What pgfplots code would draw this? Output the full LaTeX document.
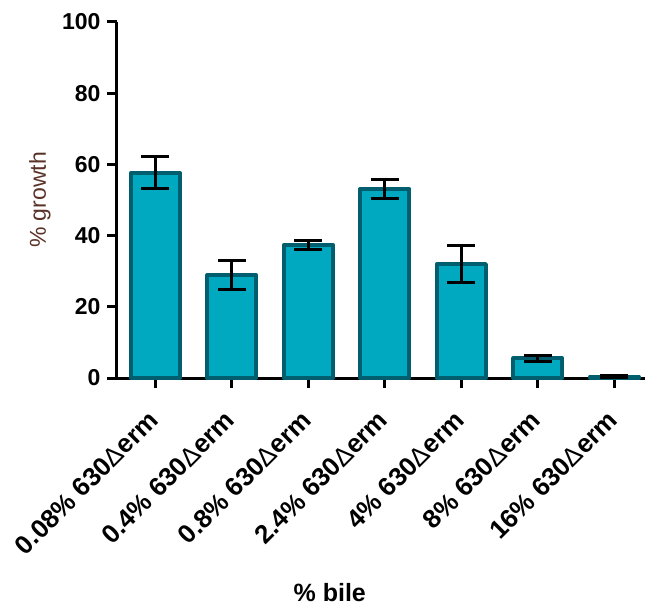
\documentclass[border=0pt]{standalone}
\usepackage{fontspec}
\setmainfont{Liberation Sans}
\usepackage{pgfplots}
\pgfplotsset{compat=1.18}
\definecolor{barfill}{RGB}{0,168,192}
\definecolor{baredge}{RGB}{0,94,110}
\definecolor{ylab}{RGB}{90,50,40}
\begin{document}
\begin{tikzpicture}
\begin{axis}[
  scale only axis,
  width=528pt, height=356pt,
  xmin=-0.5, xmax=6.4,
  ymin=0, ymax=100,
  axis x line=bottom, axis y line=left,
  axis line style={line width=3pt, -},
  ytick={0,20,40,60,80,100},
  xtick={0,1,2,3,4,5,6},
  xticklabels={0.08\% 630{\mdseries Δ}erm, 0.4\% 630{\mdseries Δ}erm, 0.8\% 630{\mdseries Δ}erm, 2.4\% 630{\mdseries Δ}erm, 4\% 630{\mdseries Δ}erm, 8\% 630{\mdseries Δ}erm, 16\% 630{\mdseries Δ}erm},
  tick style={line width=3pt, black},
  major tick length=10pt,
  tick align=outside,
  /pgf/number format/assume math mode=true,
  yticklabel style={font=\fontsize{23}{26}\selectfont\bfseries, xshift=-3pt},
  xticklabel style={font=\fontsize{26}{29}\selectfont\bfseries, rotate=45, anchor=north east, xshift=-17.5pt, yshift=-5.5pt},
  ylabel={\% growth},
  ylabel style={font=\fontsize{23}{26}\selectfont, color=ylab, at={(axis description cs:-0.146,0.5)}, anchor=center},
  xlabel={\% bile},
  xlabel style={font=\fontsize{25}{28}\selectfont\bfseries, at={(axis description cs:0.403,-0.604)}, anchor=center},
  clip=false,
]
\addplot[ybar, bar width=49pt, fill=barfill, draw=baredge, line width=4pt, line join=round,
  error bars/.cd, y dir=both, y explicit,
  error bar style={line width=3pt, black},
  error mark options={rotate=90, mark size=14pt, line width=3pt, black}]
coordinates {
  (0,57.6) +- (0,4.5)
  (1,28.9) +- (0,4.1)
  (2,37.4) +- (0,1.2)
  (3,53.1) +- (0,2.7)
  (4,32.0) +- (0,5.3)
  (5,5.5) +- (0,0.8)
  (6,0.4) +- (0,0.2)
};
\end{axis}
\pgfresetboundingbox
\path (-117pt,-229pt) rectangle (530pt,378pt);
\end{tikzpicture}
\end{document}
